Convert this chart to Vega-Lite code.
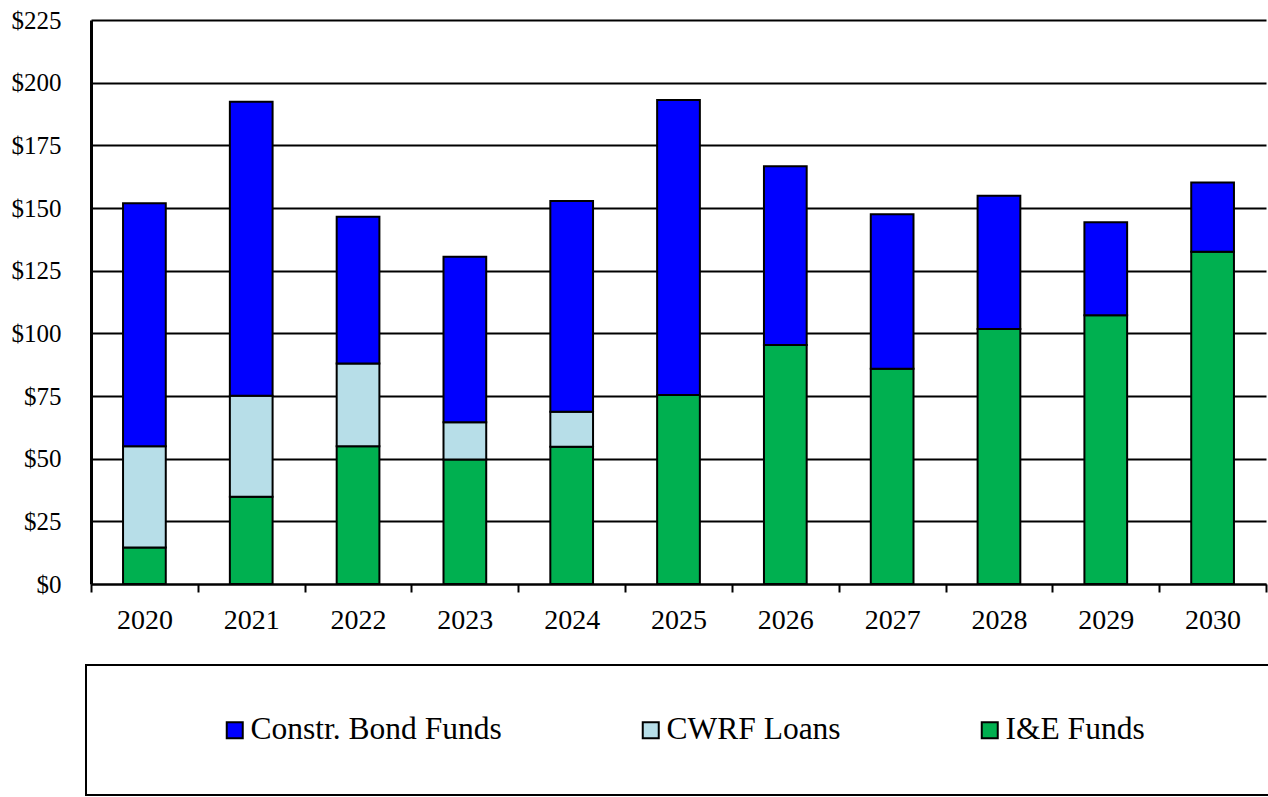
{
  "$schema": "https://vega.github.io/schema/vega-lite/v6.json",
  "width": 1175,
  "height": 564,
  "padding": {"left": 11, "top": 8, "right": 0, "bottom": 0},
  "background": "white",
  "config": {"view": {"stroke": null}, "font": "'Liberation Serif', 'Times New Roman', Times, serif"},
  "data": {
    "values": [
      {"year": "2020", "series": "I&E Funds", "value": 14.6},
      {"year": "2020", "series": "CWRF Loans", "value": 40.4},
      {"year": "2020", "series": "Constr. Bond Funds", "value": 96.9},
      {"year": "2021", "series": "I&E Funds", "value": 34.8},
      {"year": "2021", "series": "CWRF Loans", "value": 40.3},
      {"year": "2021", "series": "Constr. Bond Funds", "value": 117.3},
      {"year": "2022", "series": "I&E Funds", "value": 55.0},
      {"year": "2022", "series": "CWRF Loans", "value": 33.0},
      {"year": "2022", "series": "Constr. Bond Funds", "value": 58.5},
      {"year": "2023", "series": "I&E Funds", "value": 49.7},
      {"year": "2023", "series": "CWRF Loans", "value": 14.8},
      {"year": "2023", "series": "Constr. Bond Funds", "value": 66.1},
      {"year": "2024", "series": "I&E Funds", "value": 54.8},
      {"year": "2024", "series": "CWRF Loans", "value": 13.9},
      {"year": "2024", "series": "Constr. Bond Funds", "value": 84.1},
      {"year": "2025", "series": "I&E Funds", "value": 75.4},
      {"year": "2025", "series": "Constr. Bond Funds", "value": 117.7},
      {"year": "2026", "series": "I&E Funds", "value": 95.3},
      {"year": "2026", "series": "Constr. Bond Funds", "value": 71.4},
      {"year": "2027", "series": "I&E Funds", "value": 85.9},
      {"year": "2027", "series": "Constr. Bond Funds", "value": 61.6},
      {"year": "2028", "series": "I&E Funds", "value": 101.7},
      {"year": "2028", "series": "Constr. Bond Funds", "value": 53.2},
      {"year": "2029", "series": "I&E Funds", "value": 107.2},
      {"year": "2029", "series": "Constr. Bond Funds", "value": 37.1},
      {"year": "2030", "series": "I&E Funds", "value": 132.5},
      {"year": "2030", "series": "Constr. Bond Funds", "value": 27.7}
    ]
  },
  "transform": [
    {"calculate": "indexof(['I&E Funds', 'CWRF Loans', 'Constr. Bond Funds'], datum.series)", "as": "stackOrder"}
  ],
  "mark": {"type": "bar", "width": {"band": 0.4}, "stroke": "black", "strokeWidth": 2},
  "encoding": {
    "x": {
      "field": "year",
      "type": "ordinal",
      "scale": {"paddingInner": 0, "paddingOuter": 0},
      "axis": {
        "title": null,
        "labelAngle": 0,
        "labelFontSize": 28,
        "labelColor": "black",
        "tickBand": "extent",
        "tickSize": 8,
        "tickWidth": 2,
        "tickColor": "black",
        "domainColor": "black",
        "domainWidth": 2,
        "labelPadding": 14,
        "grid": false
      }
    },
    "y": {
      "field": "value",
      "type": "quantitative",
      "stack": "zero",
      "scale": {"domain": [0, 225], "nice": false},
      "axis": {
        "title": null,
        "values": [0, 25, 50, 75, 100, 125, 150, 175, 200, 225],
        "format": "$.0f",
        "labelFontSize": 25,
        "labelColor": "black",
        "ticks": false,
        "tickSize": 0,
        "labelPadding": 30,
        "grid": true,
        "gridColor": "black",
        "gridWidth": 2,
        "domainColor": "black",
        "domainWidth": 3
      }
    },
    "order": {"field": "stackOrder", "type": "quantitative", "sort": "ascending"},
    "color": {
      "field": "series",
      "type": "nominal",
      "sort": ["Constr. Bond Funds", "CWRF Loans", "I&E Funds"],
      "scale": {"range": ["#0000FF", "#B7DEE8", "#00B050"]},
      "legend": {
        "orient": "none",
        "legendX": -5,
        "legendY": 645,
        "direction": "horizontal",
        "title": "\u00a0",
        "titleOrient": "left",
        "titleFontSize": 8,
        "titlePadding": 84,
        "padding": 49,
        "strokeColor": "black",
        "fillColor": "white",
        "symbolType": "square",
        "symbolSize": 256,
        "symbolStrokeColor": "black",
        "symbolStrokeWidth": 2,
        "symbolOpacity": 1,
        "labelFontSize": 31.5,
        "labelColor": "black",
        "labelOffset": 0,
        "labelLimit": 800,
        "columnPadding": 133,
        "labelExpr": "datum.label == 'I&E Funds' ? datum.label + '\u00a0\u00a0\u00a0\u00a0\u00a0\u00a0\u00a0\u00a0\u00a0\u00a0\u00a0\u00a0\u200b' : datum.label",
        "encode": {"legend": {"update": {"strokeWidth": {"value": 2}}}}
      }
    }
  }
}
